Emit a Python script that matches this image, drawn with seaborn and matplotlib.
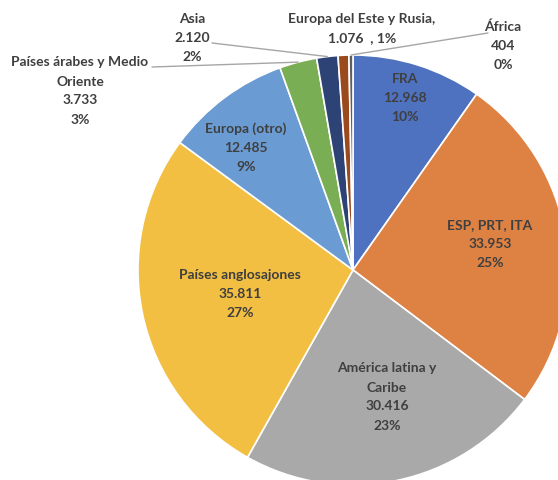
import numpy as np
import matplotlib.pyplot as plt
import seaborn as sns

regions = ["FRA", "ESP, PRT, ITA", "América latina y\nCaribe", "Países anglosajones",
           "Europa (otro)", "Países árabes y Medio\nOriente", "Asia",
           "Europa del Este y Rusia,", "África"]
values = [12968, 33953, 30416, 35811, 12485, 3733, 2120, 1076, 404]
value_labels = ["12.968", "33.953", "30.416", "35.811", "12.485", "3.733", "2.120", "1.076", "404"]
pct_labels = ["10%", "25%", "23%", "27%", "9%", "3%", "2%", "1%", "0%"]
colors = ["#4F72C0", "#DE8244", "#A9A9A9", "#F2BF42", "#6A9BD2",
          "#7AAE55", "#2E4375", "#9A4A1C", "#5E5E5E"]

sns.set_style("white")
plt.rcParams['font.family'] = ['Lato', 'DejaVu Sans']

W, H = 558, 480
cx, cy, R = 353, 270, 215  # pie centre / radius in pixels (top-left origin)
fig = plt.figure(figsize=(W / 100, H / 100), dpi=100)
ax = fig.add_axes([(cx - R) / W, (H - cy - R) / H, 2 * R / W, 2 * R / H])

wedges, _ = ax.pie(values, colors=sns.color_palette(colors), startangle=90, counterclock=False,
                   wedgeprops=dict(edgecolor="white", linewidth=1.2))
ax.set_xlim(-1, 1)
ax.set_ylim(-1, 1)
ax.set_aspect("auto")


def px(x, y):
    return ((x - cx) / R, (cy - y) / R)


txt = dict(ha="center", va="center", fontsize=10, fontweight="bold", color="#3F3F3F",
           linespacing=1.7)
line_kw = dict(color="#A6A6A6", lw=1)

# inside labels
inside_pos = [(405, 98), (490, 244), (387, 397), (240, 294), (246, 148)]
for i, (x, y) in enumerate(inside_pos):
    ax.text(*px(x, y), f"{regions[i]}\n{value_labels[i]}\n{pct_labels[i]}", **txt)

# outside labels with leader lines
outside_pos = {5: (80, 91), 6: (192, 38), 7: (362, 29), 8: (503, 46)}
leader_end = {5: (152, 67), 6: (212, 43), 8: (488, 33)}
for i, (x, y) in outside_pos.items():
    if i == 7:
        label = f"{regions[i]}\n{value_labels[i]}  , {pct_labels[i]}"
    else:
        label = f"{regions[i]}\n{value_labels[i]}\n{pct_labels[i]}"
    t = ax.text(*px(x, y), label, **txt)
    t.set_clip_on(False)
    if i in leader_end:
        w = wedges[i]
        mid = np.deg2rad((w.theta1 + w.theta2) / 2)
        ex, ey = px(*leader_end[i])
        ax.plot([np.cos(mid), ex], [np.sin(mid), ey], clip_on=False, **line_kw)

fig.savefig("out.png", dpi=100)
